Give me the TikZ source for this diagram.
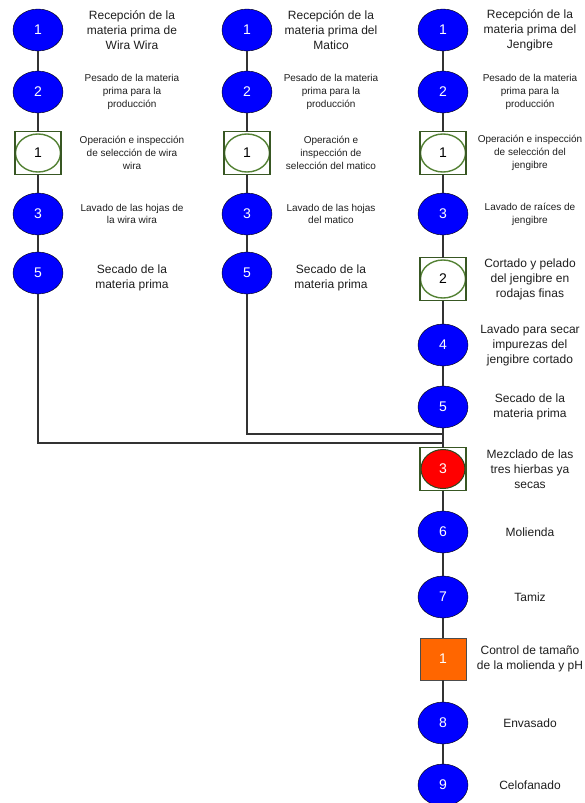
\documentclass[tikz,border=0pt]{standalone}
\usepackage{fontspec}
\setmainfont{Liberation Sans}
\usetikzlibrary{positioning, shapes.geometric}
\definecolor{opblue}{RGB}{0, 0, 255}
\definecolor{inspgreen}{RGB}{56, 87, 35}
\definecolor{ringgreen}{RGB}{84, 130, 53}
\definecolor{ctrlorange}{RGB}{255, 102, 0}
\definecolor{linegray}{RGB}{51, 51, 51}
\definecolor{labelgray}{RGB}{30, 30, 30}

\begin{document}
\begin{tikzpicture}[
            x=1pt, y=1pt,
            node distance=20pt,
            oper/.style={ellipse, draw=black, fill=opblue, minimum width=50pt, minimum height=42pt, inner sep=0pt, outer sep=0pt, text=white, font=\fontsize{14}{16}\selectfont},
            insp/.style={rectangle, draw=inspgreen, line width=1.2pt, minimum width=46pt, minimum height=43pt, inner sep=0pt, outer sep=0pt, font=\fontsize{14}{16}\selectfont,
                path picture={\draw[ringgreen, line width=1.4pt] (path picture bounding box.center) ellipse (22.5pt and 19pt);}},
            mix/.style={insp, text=white,
                path picture={\draw[fill=red, draw=inspgreen!80!black, line width=1pt] (path picture bounding box.center) ellipse (22pt and 19.5pt);}},
            ctrl/.style={rectangle, draw=black!70, fill=ctrlorange, minimum width=46pt, minimum height=42pt, inner sep=0pt, outer sep=0pt, text=white, font=\fontsize{14}{16}\selectfont},
            big/.style={align=center, text=labelgray, font=\fontsize{12}{15}\selectfont},
            small/.style={align=center, text=labelgray, font=\fontsize{10}{12.8}\selectfont},
            link/.style={draw=linegray, line width=1.2pt}
        ]
            \useasboundingbox (0,0) rectangle (584,-803);

            % wira wira
            \node[oper] (a1) at (38,-30) {1};
            \node[oper, below=20pt of a1] (a2) {2};
            \node[insp, below=18.5pt of a2] (a3) {1};
            \node[oper, below=18.5pt of a3] (a4) {3};
            \node[oper, below=17pt of a4] (a5) {5};

            \node[big] (la1) at ([xshift=94pt]a1.center) {Recepción de la\\materia prima de\\Wira Wira};
            \node[small] (la2) at ([xshift=94pt]a2.center) {Pesado de la materia\\prima para la\\producción};
            \node[small] (la3) at ([xshift=94pt]a3.center) {Operación e inspección\\de selección de wira\\wira};
            \node[small] (la4) at ([xshift=94pt]a4.center) {Lavado de las hojas de\\la wira wira};
            \node[big] (la5) at ([xshift=94pt, yshift=-5pt]a5.center) {Secado de la\\materia prima};

            % matico
            \node[oper] (b1) at (247,-30) {1};
            \node[oper, below=20pt of b1] (b2) {2};
            \node[insp, below=18.5pt of b2] (b3) {1};
            \node[oper, below=18.5pt of b3] (b4) {3};
            \node[oper, below=17pt of b4] (b5) {5};

            \node[big] (lb1) at ([xshift=84pt]b1.center) {Recepción de la\\materia prima del\\Matico};
            \node[small] (lb2) at ([xshift=84pt]b2.center) {Pesado de la materia\\prima para la\\producción};
            \node[small] (lb3) at ([xshift=84pt]b3.center) {Operación e\\inspección de\\selección del matico};
            \node[small] (lb4) at ([xshift=84pt]b4.center) {Lavado de las hojas\\del matico};
            \node[big] (lb5) at ([xshift=84pt, yshift=-5pt]b5.center) {Secado de la\\materia prima};

            % jengibre y proceso comun
            \node[oper] (c1) at (443,-30) {1};
            \node[oper, below=20pt of c1] (c2) {2};
            \node[insp, below=18.5pt of c2] (c3) {1};
            \node[oper, below=18.5pt of c3] (c4) {3};
            \node[insp, below=22.5pt of c4] (c5) {2};
            \node[oper, below=23.5pt of c5] (c6) {4};
            \node[oper, below=20pt of c6] (c7) {5};
            \node[mix, below=19.5pt of c7] (c8) {3};
            \node[oper, below=20.5pt of c8] (c9) {6};
            \node[oper, below=23pt of c9] (c10) {7};
            \node[ctrl, below=20pt of c10] (c11) {1};
            \node[oper, below=22pt of c11] (c12) {8};
            \node[oper, below=20pt of c12] (c13) {9};

            \node[big] (lc1) at ([xshift=87pt]c1.center) {Recepción de la\\materia prima del\\Jengibre};
            \node[small] (lc2) at ([xshift=87pt]c2.center) {Pesado de la materia\\prima para la\\producción};
            \node[small] (lc3) at ([xshift=87pt]c3.center) {Operación e inspección\\de selección del\\jengibre};
            \node[small] (lc4) at ([xshift=87pt]c4.center) {Lavado de raíces de\\jengibre};
            \node[big] (lc5) at ([xshift=87pt]c5.center) {Cortado y pelado\\del jengibre en\\rodajas finas};
            \node[big] (lc6) at ([xshift=87pt]c6.center) {Lavado para secar\\impurezas del\\jengibre cortado};
            \node[big] (lc7) at ([xshift=87pt]c7.center) {Secado de la\\materia prima};
            \node[big] (lc8) at ([xshift=87pt]c8.center) {Mezclado de las\\tres hierbas ya\\secas};
            \node[big] (lc9) at ([xshift=87pt]c9.center) {Molienda};
            \node[big] (lc10) at ([xshift=87pt]c10.center) {Tamiz};
            \node[big] (lc11) at ([xshift=87pt]c11.center) {Control de tamaño\\de la molienda y pH};
            \node[big] (lc12) at ([xshift=87pt]c12.center) {Envasado};
            \node[big] (lc13) at ([xshift=87pt]c13.center) {Celofanado};

            \draw[link] (a1) -- (a2);
            \draw[link] (a2) -- (a3);
            \draw[link] (a3) -- (a4);
            \draw[link] (a4) -- (a5);
            \draw[link] (b1) -- (b2);
            \draw[link] (b2) -- (b3);
            \draw[link] (b3) -- (b4);
            \draw[link] (b4) -- (b5);
            \draw[link] (c1) -- (c2);
            \draw[link] (c2) -- (c3);
            \draw[link] (c3) -- (c4);
            \draw[link] (c4) -- (c5);
            \draw[link] (c5) -- (c6);
            \draw[link] (c6) -- (c7);
            \draw[link] (c7) -- (c8);
            \draw[link] (c8) -- (c9);
            \draw[link] (c9) -- (c10);
            \draw[link] (c10) -- (c11);
            \draw[link] (c11) -- (c12);
            \draw[link] (c12) -- (c13);

            % union de las tres lineas
            \coordinate (ja) at (38,-443);
            \coordinate (jb) at (247,-434);
            \coordinate (jae) at (c7 |- ja);
            \coordinate (jbe) at (c7 |- jb);
            \draw[link] (a5) -- (ja) -- (jae);
            \draw[link] (b5) -- (jb) -- (jbe);
        \end{tikzpicture}
\end{document}
